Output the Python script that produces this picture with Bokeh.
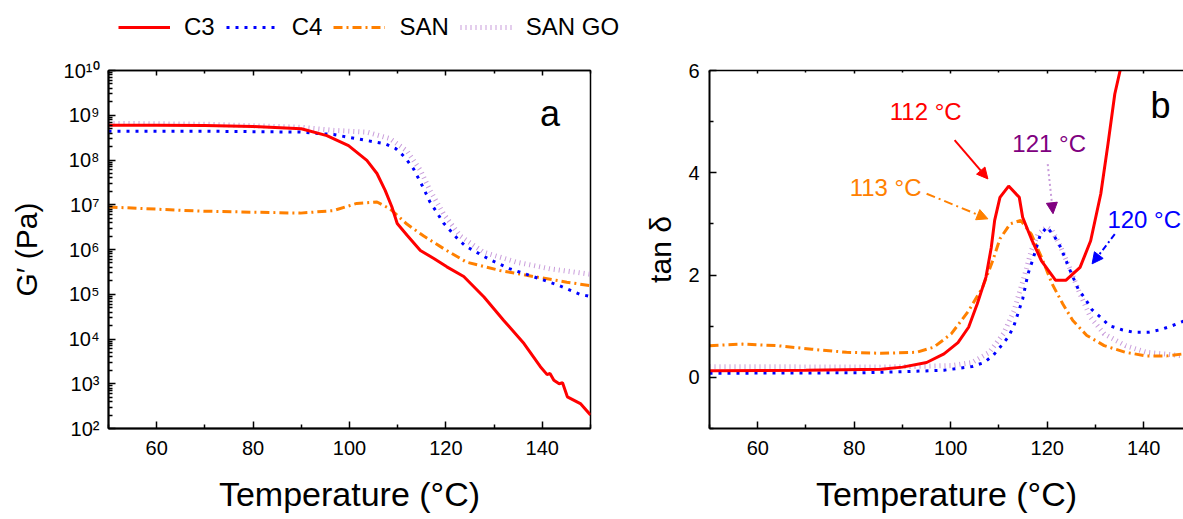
from bokeh.plotting import figure
from bokeh.layouts import row, column
from bokeh.models import (Range1d, LinearAxis, FixedTicker, CustomJSTickFormatter,
                          Legend, LegendItem, Label, Arrow, NormalHead)
from bokeh.embed import file_html
from bokeh.resources import INLINE

FONT = "Liberation Sans, Arial, sans-serif"

# ---------------- data: panel a (G', Pa) ----------------
t_c3_a = [50, 60, 70, 80, 90, 95.3, 99.8, 103.6, 105.7, 107.4, 108.8, 109.9, 111.9, 114.7,
          117.5, 120.2, 123.7, 127.9, 132.0, 136.2, 139.6, 141.0, 141.6, 142.4, 143.5, 144.2,
          145.2, 147.9, 150]
g_c3 = [6.0e8, 6.0e8, 5.9e8, 5.6e8, 5.0e8, 3.5e8, 2.1e8, 9.8e7, 5.0e7, 2.1e7, 8.9e6, 3.8e6,
        2.1e6, 9.5e5, 6.3e5, 4.1e5, 2.5e5, 8.7e4, 2.6e4, 7.9e3, 2.4e3, 1.6e3, 1.7e3, 1.2e3,
        1.0e3, 1.05e3, 5.1e2, 3.6e2, 2.0e2]

t_c4_a = [50, 70, 89.8, 96.7, 102.2, 107.4, 109.6, 111.5, 113.3, 115.4, 116.7, 118.1, 119.5,
          122.6, 124.2, 128.8, 133.3, 138.5, 143.3, 147.8, 150]
g_c4 = [4.4e8, 4.4e8, 4.2e8, 3.7e8, 2.9e8, 2.3e8, 1.8e8, 1.15e8, 6.3e7, 2.3e7, 1.15e7, 6.8e6,
        3.9e6, 1.66e6, 1.17e6, 6.2e5, 3.7e5, 2.4e5, 1.6e5, 1.0e5, 8.9e4]

t_san_a = [50, 69.1, 89.8, 96.7, 101.5, 105.7, 108.4, 111.9, 115.4, 119.5, 124.3, 131.2,
           138.1, 145.1, 150]
g_san = [8.9e6, 7.2e6, 6.5e6, 7.4e6, 1.07e7, 1.15e7, 8.1e6, 3.7e6, 2.0e6, 1.05e6, 5.2e5,
         3.4e5, 2.5e5, 1.86e5, 1.55e5]

t_sango_a = [50, 70, 89.8, 96.7, 103.6, 108.4, 111.9, 114.7, 116.7, 119.5, 123.0, 127.8,
             134.7, 141.6, 150]
g_sango = [6.6e8, 6.3e8, 5.4e8, 4.6e8, 4.2e8, 3.0e8, 1.6e8, 5.9e7, 2.1e7, 6.3e6, 2.0e6,
           8.7e5, 5.2e5, 3.7e5, 2.8e5]

# ---------------- data: panel b (tan delta) ----------------
t_c3_b = [50, 70, 85.6, 90.0, 95.0, 98.6, 101.5, 103.7, 105.5, 107.3, 108.4, 109.1, 110.2,
          112.0, 114.2, 114.9, 116.7, 118.8, 121.7, 123.9, 126.8, 129.0, 131.1, 132.6,
          134.0, 135.1, 135.6]
tan_c3 = [0.13, 0.14, 0.16, 0.20, 0.29, 0.46, 0.68, 0.98, 1.44, 1.96, 2.54, 3.07, 3.52,
          3.74, 3.52, 3.13, 2.71, 2.28, 1.90, 1.90, 2.15, 2.67, 3.59, 4.57, 5.54, 6.0, 6.5]

t_c4_b = [50, 81.3, 90, 98.6, 104.4, 106.9, 108.7, 110.5, 112.0, 113.1, 114.9, 116.0, 117.0,
          118.5, 119.9, 121.4, 122.8, 124.6, 126.4, 127.9, 129.3, 131.1, 132.9, 135.5,
          138.0, 140.9, 143.4, 145.9, 148.3, 150]
tan_c4 = [0.08, 0.09, 0.11, 0.14, 0.21, 0.29, 0.42, 0.62, 0.80, 1.01, 1.53, 2.02, 2.30,
          2.77, 2.94, 2.77, 2.54, 2.12, 1.73, 1.53, 1.32, 1.17, 1.01, 0.93, 0.88, 0.88,
          0.93, 1.01, 1.10, 1.16]

t_san_b = [50, 56.8, 64.0, 71.2, 78.4, 85.6, 92.9, 96.5, 100.1, 103.7, 106.6, 108.7, 110.2,
           112.3, 114.5, 116.7, 118.8, 121.0, 123.2, 125.3, 128.2, 131.8, 136.2, 140.5,
           144.8, 148.3, 150]
tan_san = [0.62, 0.65, 0.62, 0.55, 0.49, 0.47, 0.49, 0.59, 0.85, 1.30, 1.76, 2.28, 2.71,
           3.00, 3.07, 2.80, 2.35, 1.83, 1.44, 1.11, 0.82, 0.62, 0.49, 0.42, 0.42, 0.46, 0.48]

t_sango_b = [50, 85.6, 100.1, 104.4, 108.0, 110.9, 113.1, 115.2, 116.7, 118.1, 119.9,
             121.0, 122.5, 124.6, 126.8, 129.0, 131.8, 136.2, 140.5, 148.3, 150]
tan_sango = [0.21, 0.20, 0.23, 0.29, 0.49, 0.85, 1.30, 1.96, 2.48, 2.80, 2.94, 2.87, 2.61,
             2.15, 1.63, 1.17, 0.85, 0.62, 0.49, 0.42, 0.42]

# ---------------- ticks ----------------
x_ticks = [60, 80, 100, 120, 140]
x_minor = [50, 70, 90, 110, 130, 150]
g_ticks = [1e2, 1e3, 1e4, 1e5, 1e6, 1e7, 1e8, 1e9, 1e10]
g_tick_labels = ["10²", "10³", "10⁴", "10⁵", "10⁶", "10⁷", "10⁸", "10⁹", "10¹⁰"]
g_minor = [k * 10 ** n for n in range(2, 10) for k in range(2, 10)]
tan_ticks = [0, 2, 4, 6]
tan_minor = [-1, 1, 3, 5]

series_names = ["C3", "C4", "SAN", "SAN GO"]
colors = ["#ff0000", "#0000ff", "#ff8000", "#c99ddb"]
widths = [3, 3, 3, 5]
dashes = ["solid", "3 6", "9 4 2 4", "1 4"]

# ---------------- annotations (panel b) ----------------
ann_text = ["112 °C", "113 °C", "121 °C", "120 °C"]
ann_x = [94.8, 86.5, 120.4, 140.1]
ann_y = [5.19, 3.72, 4.58, 3.08]
ann_color = ["#ff0000", "#ff8000", "#800080", "#0000ff"]
arr_x0 = [100.8, 95.0, 120.1, 134.0]
arr_y0 = [4.64, 3.59, 4.17, 2.80]
arr_x1 = [107.7, 107.7, 121.2, 129.3]
arr_y1 = [3.88, 3.10, 3.20, 2.22]
arr_line_color = ["#ff0000", "#ff8000", "#c99ddb", "#0000ff"]
arr_dash = ["solid", "9 4 2 4", "2 3", "6 3 2 3"]
arr_width = [2, 2, 2, 2]


def style_axis(ax, width=2):
    ax.axis_line_width = width
    ax.axis_line_color = "black"
    ax.major_tick_in = 7
    ax.major_tick_out = 0
    ax.minor_tick_in = 4
    ax.minor_tick_out = 0
    ax.major_tick_line_width = 1.5
    ax.minor_tick_line_width = 1.5
    ax.major_label_text_font = FONT
    ax.major_label_text_font_size = "20px"
    ax.major_label_text_color = "black"
    ax.axis_label_text_font = FONT
    ax.axis_label_text_font_style = "normal"
    ax.axis_label_text_color = "black"


def top_axis(fig, tin, minin):
    ax = LinearAxis(ticker=FixedTicker(ticks=x_ticks, minor_ticks=x_minor),
                    formatter=CustomJSTickFormatter(code="return '';"))
    style_axis(ax, width=1.5)
    ax.major_tick_in = tin
    ax.minor_tick_in = minin
    ax.major_label_standoff = 0
    fig.add_layout(ax, "above")


BOTTOM = 90
TOP = 25

series_b = [(t_c3_b, tan_c3), (t_c4_b, tan_c4), (t_san_b, tan_san), (t_sango_b, tan_sango)]

# ---------------- legend strip (series drawn out of view, only the legend shows) -------
lf = figure(width=640, height=45, x_range=Range1d(0, 1), y_range=Range1d(-100, -99),
            output_backend="svg", toolbar_location=None, min_border=0,
            x_axis_location=None, y_axis_location=None)
lf.grid.visible = False
lf.outline_line_color = None
leg_rends = [lf.line(series_b[i][0], series_b[i][1], line_color=colors[i],
                     line_width=widths[i], line_dash=dashes[i]) for i in range(4)]
legend = Legend(items=[LegendItem(label=series_names[i], renderers=[leg_rends[i]])
                       for i in range(4)],
                orientation="horizontal", location=(118, 4), glyph_width=52, glyph_height=20,
                label_standoff=14, spacing=11, padding=0, margin=0,
                border_line_alpha=0, background_fill_alpha=0,
                label_text_font=FONT, label_text_font_size="24px", label_text_color="black")
lf.add_layout(legend)

# ---------------- panel a ----------------
p1 = figure(width=640, height=TOP + 358 + BOTTOM, x_range=Range1d(50, 150),
            y_range=Range1d(1e2, 1e10), y_axis_type="log", output_backend="svg",
            toolbar_location=None, min_border_left=108, min_border_right=50,
            min_border_top=TOP, min_border_bottom=BOTTOM)
p1.grid.visible = False
p1.outline_line_color = "black"
p1.outline_line_width = 1.5

xa = p1.xaxis[0]
xa.ticker = FixedTicker(ticks=x_ticks, minor_ticks=x_minor)
style_axis(xa)
xa.axis_label = "Temperature (°C)"
xa.axis_label_text_font_size = "34px"
xa.major_label_standoff = 12
xa.axis_label_standoff = 17

ya = p1.yaxis[0]
ya.ticker = FixedTicker(ticks=g_ticks, minor_ticks=g_minor)
ya.formatter = CustomJSTickFormatter(args=dict(gt=g_ticks, gl=g_tick_labels), code="""
let k = -1;
for (let j = 0; j < gt.length; j++) {
  if (Math.abs(Math.log10(gt[j]) - Math.log10(tick)) < 1e-6) { k = j; }
}
return k >= 0 ? gl[k] : '';
""")
style_axis(ya)
ya.axis_label = "G′ (Pa)"
ya.axis_label_text_font_size = "30px"
ya.major_label_standoff = 9
ya.axis_label_standoff = 18

top_axis(p1, 5, 3)

series_a = [(t_c3_a, g_c3), (t_c4_a, g_c4), (t_san_a, g_san), (t_sango_a, g_sango)]
order = [3, 2, 1, 0]
for i in order:
    t, g = series_a[i]
    p1.line(t, g, line_color=colors[i], line_width=widths[i], line_dash=dashes[i])

p1.add_layout(Label(x=141.6, y=1.1e9, text="a", text_font=FONT, text_font_size="36px",
                    text_align="center", text_baseline="middle", text_color="black"))

# ---------------- panel b ----------------
p2 = figure(width=543, height=TOP + 358 + BOTTOM, x_range=Range1d(50, 148.24),
            y_range=Range1d(-1, 6), output_backend="svg", toolbar_location=None,
            min_border_left=69, min_border_right=0, min_border_top=TOP,
            min_border_bottom=BOTTOM)
p2.grid.visible = False
p2.outline_line_color = None

xb = p2.xaxis[0]
xb.ticker = FixedTicker(ticks=x_ticks, minor_ticks=x_minor)
style_axis(xb)
xb.axis_label = "Temperature (°C)"
xb.axis_label_text_font_size = "34px"
xb.major_label_standoff = 12
xb.axis_label_standoff = 17

yb = p2.yaxis[0]
yb.ticker = FixedTicker(ticks=tan_ticks, minor_ticks=tan_minor)
style_axis(yb)
yb.axis_label = "tan δ"
yb.axis_label_text_font_size = "30px"
yb.major_label_standoff = 10
yb.axis_label_standoff = 8

top_axis(p2, 3, 2)

for i in order:
    t, v = series_b[i]
    p2.line(t, v, line_color=colors[i], line_width=widths[i], line_dash=dashes[i])

for i in range(4):
    head_color = ann_color[i]
    p2.add_layout(Arrow(end=NormalHead(size=11, fill_color=head_color, line_color=head_color),
                        x_start=arr_x0[i], y_start=arr_y0[i], x_end=arr_x1[i], y_end=arr_y1[i],
                        line_color=arr_line_color[i], line_width=arr_width[i],
                        line_dash=arr_dash[i]))
    p2.add_layout(Label(x=ann_x[i], y=ann_y[i], text=ann_text[i], text_font=FONT,
                        text_font_size="24px", text_align="center", text_baseline="middle",
                        text_color=ann_color[i]))

p2.add_layout(Label(x=143.5, y=5.32, text="b", text_font=FONT, text_font_size="36px",
                    text_align="center", text_baseline="middle", text_color="black"))

layout = column(lf, row(p1, p2))
open("out.html", "w").write(file_html(layout, INLINE))
